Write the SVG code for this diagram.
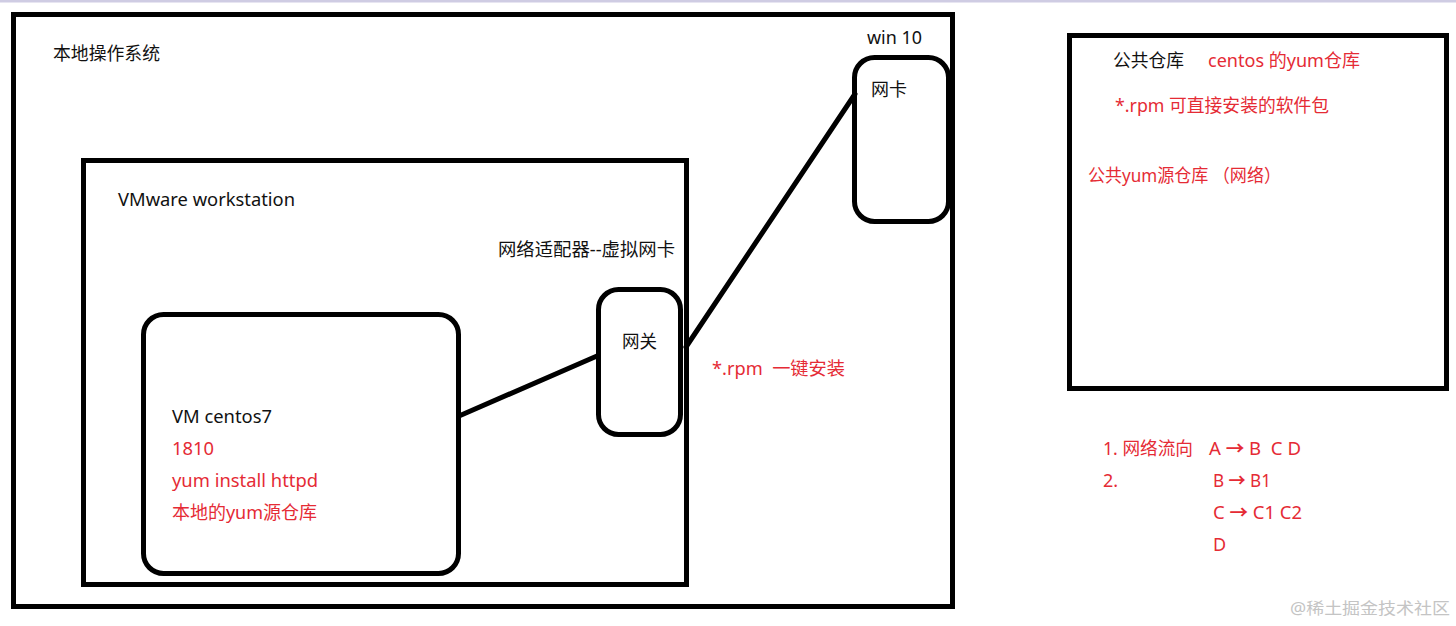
<svg xmlns="http://www.w3.org/2000/svg" width="1456" height="626" viewBox="0 0 1456 626">
  <style>
    .frame { fill: none; stroke: #000; stroke-width: 5; }
    .node { fill: none; stroke: #000; stroke-width: 5; }
    .wire { fill: none; stroke: #000; stroke-width: 5; stroke-linecap: round; }
    text { font-family: "Noto Sans", "Noto Sans CJK SC", sans-serif; font-size: 18px; white-space: pre; }
    .k { fill: #111; }
    .r { fill: #e52b35; }
    .ar { font-weight: bold; }
    .wm { fill: #c4c4c4; font-size: 16px; }
  </style>
  <rect x="0" y="0" width="1456" height="626" fill="#fff"/>
  <rect x="0" y="0" width="1456" height="2.5" fill="#cfcce3"/>

  <g id="local-os">
    <rect class="frame" x="13.5" y="14.5" width="939" height="592"/>
    <text class="k" x="53" y="60" textLength="107" lengthAdjust="spacingAndGlyphs">本地操作系统</text>
    <text class="k" x="867" y="44" textLength="55" lengthAdjust="spacingAndGlyphs">win 10</text>
  </g>

  <g id="vmware">
    <rect class="frame" x="83.5" y="160.5" width="603" height="424"/>
    <text class="k" x="118" y="206" textLength="177" lengthAdjust="spacingAndGlyphs">VMware workstation</text>
    <text class="k" x="498" y="256" textLength="177" lengthAdjust="spacingAndGlyphs">网络适配器--虚拟网卡</text>
  </g>

  <g id="vm-centos">
    <rect class="node" x="143.5" y="314.5" width="315" height="259" rx="20" ry="20"/>
    <text class="k" x="172" y="423" textLength="100" lengthAdjust="spacingAndGlyphs">VM centos7</text>
    <text class="r" x="172" y="455" textLength="42" lengthAdjust="spacingAndGlyphs">1810</text>
    <text class="r" x="172" y="487" textLength="146" lengthAdjust="spacingAndGlyphs">yum install httpd</text>
    <text class="r" x="172" y="519" textLength="145" lengthAdjust="spacingAndGlyphs">本地的yum源仓库</text>
  </g>

  <g id="gateway">
    <rect class="node" x="598.5" y="289.5" width="82" height="145" rx="20" ry="20"/>
    <text class="k" x="622" y="348" textLength="35" lengthAdjust="spacingAndGlyphs">网关</text>
  </g>

  <g id="nic">
    <rect class="node" x="854.5" y="57.5" width="94" height="164" rx="20" ry="20"/>
    <text class="k" x="871" y="96" textLength="36" lengthAdjust="spacingAndGlyphs">网卡</text>
  </g>

  <g id="rpm-note">
    <text class="r" x="712" y="375" xml:space="preserve" textLength="133" lengthAdjust="spacingAndGlyphs">*.rpm  一键安装</text>
  </g>

  <g id="public-repo">
    <rect class="frame" x="1069.5" y="35.5" width="377" height="353"/>
    <text class="k" x="1113" y="67" textLength="71" lengthAdjust="spacingAndGlyphs">公共仓库</text>
    <text class="r" x="1208" y="67" textLength="152" lengthAdjust="spacingAndGlyphs">centos 的yum仓库</text>
    <text class="r" x="1115" y="112" textLength="214" lengthAdjust="spacingAndGlyphs">*.rpm 可直接安装的软件包</text>
    <text class="r" x="1088" y="182" textLength="193" lengthAdjust="spacingAndGlyphs">公共yum源仓库 （网络）</text>
  </g>

  <g id="flow-notes">
    <text class="r" x="1103" y="455" textLength="90" lengthAdjust="spacingAndGlyphs">1. 网络流向</text>
    <text class="r" x="1209" y="455" xml:space="preserve" textLength="92" lengthAdjust="spacingAndGlyphs">A <tspan class="ar">→</tspan> B  C D</text>
    <text class="r" x="1103" y="487">2.</text>
    <text class="r" x="1213" y="487" xml:space="preserve" textLength="58" lengthAdjust="spacingAndGlyphs">B <tspan class="ar">→</tspan> B1</text>
    <text class="r" x="1213" y="519" xml:space="preserve" textLength="89" lengthAdjust="spacingAndGlyphs">C <tspan class="ar">→</tspan> C1 C2</text>
    <text class="r" x="1213" y="551">D</text>
  </g>

  <g id="connectors">
    <line class="wire" x1="459" y1="416" x2="597" y2="356"/>
    <line class="wire" x1="686" y1="347" x2="855" y2="94"/>
  </g>

  <text class="wm" x="1290" y="614" textLength="160" lengthAdjust="spacingAndGlyphs">@稀土掘金技术社区</text>
</svg>
